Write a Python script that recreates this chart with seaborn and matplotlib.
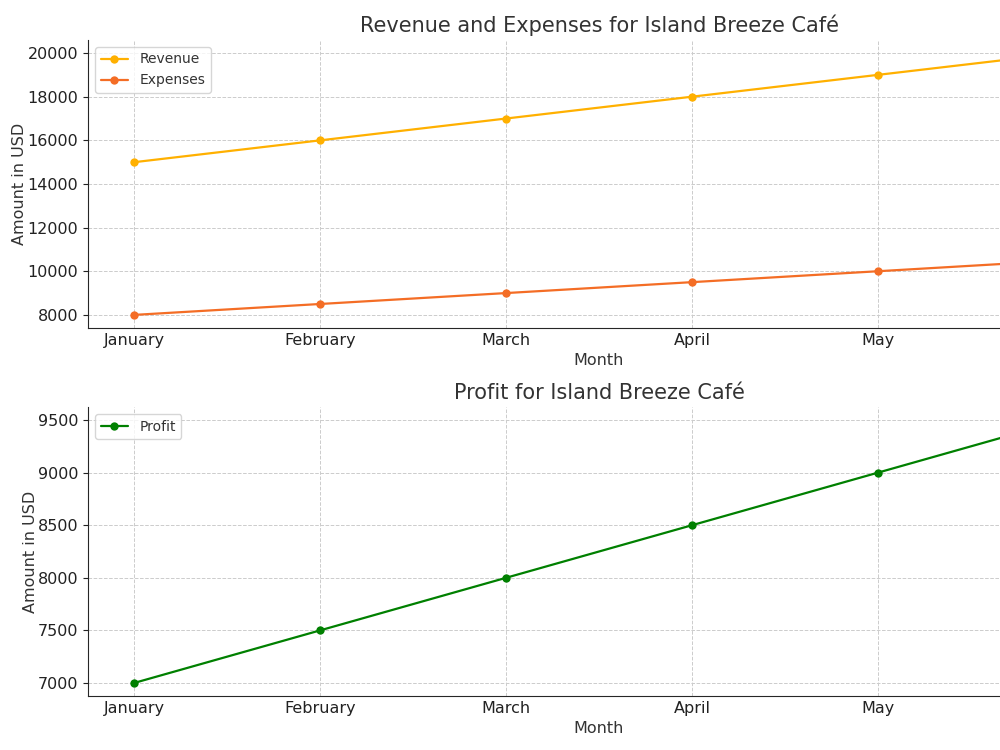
import pandas as pd
import matplotlib.pyplot as plt
import seaborn as sns

months = ['January', 'February', 'March', 'April', 'May', 'June']
revenue = [15000, 16000, 17000, 18000, 19000, 20000]
expenses = [8000, 8500, 9000, 9500, 10000, 10500]
profit = [7000, 7500, 8000, 8500, 9000, 9500]

df = pd.DataFrame({'Month': months, 'Revenue': revenue,
                   'Expenses': expenses, 'Profit': profit})

sns.set_style('ticks')
plt.rcParams['font.family'] = ['DejaVu Sans']
plt.rcParams['text.color'] = '#333333'
plt.rcParams['axes.labelcolor'] = '#333333'
plt.rcParams['xtick.color'] = '#222222'
plt.rcParams['ytick.color'] = '#222222'

fig = plt.figure(figsize=(10, 7.5), dpi=100)
# the original image is cropped on the right, so the axes run past the edge
ax1 = fig.add_axes([0.088, 0.5627, 1.022, 0.384])
ax2 = fig.add_axes([0.088, 0.072, 1.022, 0.3853])

sns.lineplot(data=df, x='Month', y='Revenue', marker='o', color='#FFB000',
             markeredgewidth=0, markersize=6, linewidth=1.6, label='Revenue', ax=ax1)
sns.lineplot(data=df, x='Month', y='Expenses', marker='o', color='#F46D25',
             markeredgewidth=0, markersize=6, linewidth=1.6, label='Expenses', ax=ax1)
ax1.set_title('Revenue and Expenses for Island Breeze Café', fontsize=15)
ax1.set_xlabel('Month', fontsize=11.5)
ax1.set_ylabel('Amount in USD', fontsize=11.5, labelpad=0)

sns.lineplot(data=df, x='Month', y='Profit', marker='o', color='green',
             markeredgewidth=0, markersize=6, linewidth=1.6, label='Profit', ax=ax2)
ax2.set_title('Profit for Island Breeze Café', fontsize=15)
ax2.set_xlabel('Month', fontsize=11.5)
ax2.set_ylabel('Amount in USD', fontsize=11.5, labelpad=0)

for ax in (ax1, ax2):
    ax.grid(True, linestyle='--', linewidth=0.7, color='#cccccc')
    ax.tick_params(axis='both', labelsize=11.5)
    ax.tick_params(axis='x', length=0)
    ax.spines['top'].set_visible(False)
    ax.spines['right'].set_visible(False)
    ax.legend(loc='upper left', fontsize=10, frameon=True)
    # June label falls outside the cropped picture
    ax.get_xticklabels()[-1].set_visible(False)

plt.savefig('out.png', dpi=100)
